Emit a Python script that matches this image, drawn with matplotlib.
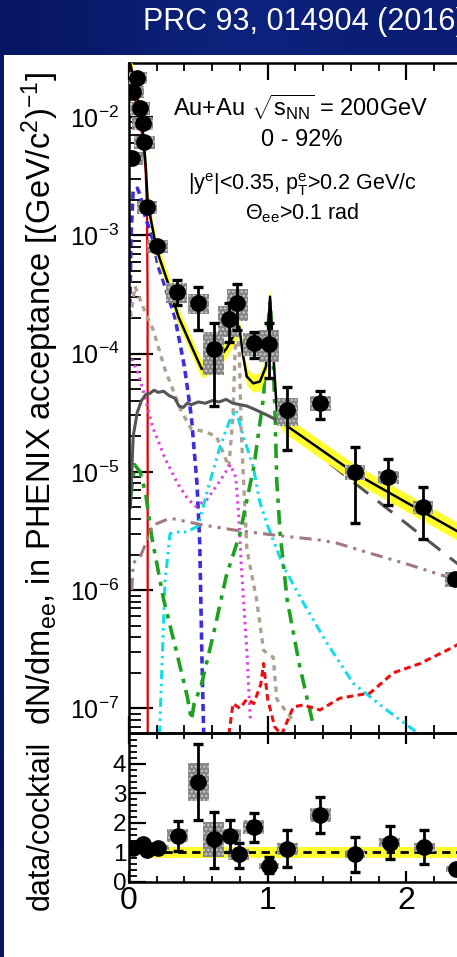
import numpy as np
import matplotlib
matplotlib.use("Agg")
import matplotlib.pyplot as plt
import matplotlib.patches as patches
from matplotlib.ticker import MultipleLocator, LogLocator, NullFormatter, FixedLocator

plt.rcParams['font.family'] = ['Liberation Sans', 'DejaVu Sans']
plt.rcParams['mathtext.fontset'] = 'custom'
plt.rcParams['mathtext.rm'] = 'Liberation Sans'
plt.rcParams['mathtext.it'] = 'Liberation Sans:italic'
plt.rcParams['mathtext.bf'] = 'Liberation Sans:bold'
plt.rcParams['mathtext.default'] = 'regular'

# ========================
# Data
# ========================
# measured dielectron yield
mass = [0.055, 0.03, 0.08, 0.10, 0.11, 0.025, 0.13, 0.205, 0.345, 0.50, 0.61,
        0.72, 0.78, 0.90, 1.01, 1.14, 1.38, 1.63, 1.87, 2.12, 2.35]
yld = [2.14e-2, 1.63e-2, 1.19e-2, 8.9e-3, 6.15e-3, 4.5e-3, 1.73e-3, 8.1e-4,
       3.32e-4, 2.68e-4, 1.09e-4, 1.96e-4, 2.68e-4, 1.23e-4, 1.21e-4, 3.33e-5,
       3.82e-5, 9.98e-6, 9.06e-6, 5.05e-6, 1.24e-6]
yld_hi = [2.14e-2, 1.63e-2, 1.19e-2, 8.9e-3, 6.15e-3, 4.5e-3, 1.73e-3, 8.1e-4,
          4.19e-4, 3.66e-4, 1.82e-4, 2.68e-4, 3.87e-4, 1.52e-4, 1.8e-4, 5.2e-5,
          4.83e-5, 1.62e-5, 1.29e-5, 7.45e-6, 1.24e-6]
yld_lo = [2.14e-2, 1.63e-2, 1.19e-2, 8.9e-3, 6.15e-3, 4.5e-3, 1.73e-3, 8.1e-4,
          2.58e-4, 1.58e-4, 3.6e-5, 1.26e-4, 1.58e-4, 9.2e-5, 6.2e-5, 1.53e-5,
          2.8e-5, 3.7e-6, 5.25e-6, 2.71e-6, 1.24e-6]
yld_sys = [0.12, 0.12, 0.12, 0.12, 0.12, 0.12, 0.12, 0.12, 0.2, 0.2, 0.4,
           0.3, 0.3, 0.22, 0.3, 0.27, 0.15, 0.15, 0.13, 0.13, 0.15]

# data / cocktail
r_mass = [0.03, 0.10, 0.13, 0.21, 0.35, 0.50, 0.61, 0.73, 0.79, 0.90, 1.01,
          1.14, 1.38, 1.63, 1.88, 2.13, 2.36]
ratio = [1.16, 1.29, 1.08, 1.16, 1.56, 3.38, 1.45, 1.56, 0.94, 1.85, 0.55,
         1.12, 2.27, 0.95, 1.33, 1.18, 0.43]
ratio_hi = [1.16, 1.29, 1.08, 1.16, 2.06, 4.68, 2.38, 2.10, 1.32, 2.34, 0.86,
            1.76, 2.89, 1.54, 1.90, 1.76, 0.43]
ratio_lo = [1.16, 1.29, 1.08, 1.16, 1.06, 2.10, 0.46, 1.03, 0.47, 1.37, 0.30,
            0.52, 1.65, 0.35, 0.77, 0.61, 0.43]
ratio_sys = [0.08, 0.08, 0.08, 0.08, 0.22, 0.65, 0.6, 0.22, 0.18, 0.24, 0.1,
             0.2, 0.25, 0.12, 0.15, 0.15, 0.1]

# cocktail sum
tot_m = [0.01, 0.03, 0.05, 0.08, 0.10, 0.12, 0.135, 0.163, 0.20, 0.283, 0.356,
         0.452, 0.524, 0.62, 0.704, 0.764, 0.795, 0.82, 0.849, 0.896, 0.944,
         0.988, 1.017, 1.04, 1.065, 1.112, 1.63, 2.35, 3.0]
tot_y = [0.028, 0.022, 0.016, 0.011, 0.0075, 0.004, 0.0019, 1.26e-3, 7.5e-4,
         3.9e-4, 2.05e-4, 1.14e-4, 7.4e-5, 8.3e-5, 1.11e-4, 1.49e-4, 1.69e-4,
         1.0e-4, 6.4e-5, 5.6e-5, 5.8e-5, 7.8e-5, 3.03e-4, 1.0e-4, 3.4e-5,
         2.57e-5, 9.7e-6, 3.23e-6, 1.2e-6]

pi0_m = [0.0, 0.02, 0.05, 0.08, 0.10, 0.12, 0.13, 0.134, 0.1345, 0.135]
pi0_y = [0.03, 0.019, 0.013, 0.009, 0.0065, 0.0035, 0.0015, 3e-4, 1e-5, 1e-8]

eta_m = [0.005, 0.015, 0.03, 0.06, 0.08, 0.12, 0.175, 0.21, 0.25, 0.33, 0.40,
         0.45, 0.49, 0.51, 0.525, 0.54]
eta_y = [2e-4, 1e-3, 2.4e-3, 2.5e-3, 2.2e-3, 1.4e-3, 9e-4, 5.5e-4, 4e-4,
         2.05e-4, 7.7e-5, 2.9e-5, 8e-6, 2.5e-6, 3e-7, 5e-8]

omg_m = [0.01, 0.043, 0.10, 0.175, 0.26, 0.38, 0.45, 0.54, 0.63, 0.68, 0.72,
         0.75, 0.765, 0.78, 0.795, 0.81, 0.85, 0.92, 0.97, 1.04, 1.065, 1.18]
omg_y = [2e-4, 3.7e-4, 2.5e-4, 1.58e-4, 7.3e-5, 3.2e-5, 2.3e-5, 2.2e-5, 2e-5,
         1.44e-5, 1.1e-5, 3e-5, 1.07e-4, 1.6e-4, 1.0e-4, 2.1e-5, 2.2e-6,
         8.3e-7, 3.1e-7, 2.7e-7, 1.2e-7, 8e-8]

etap_m = [0.02, 0.067, 0.11, 0.17, 0.26, 0.35, 0.42, 0.48, 0.56, 0.66, 0.73,
          0.77, 0.79, 0.81, 0.85, 0.875]
etap_y = [9e-5, 6.8e-5, 4.5e-5, 2.4e-5, 1.3e-5, 8e-6, 6e-6, 5.1e-6, 5.8e-6,
          8.5e-6, 1.15e-5, 9e-6, 4.5e-6, 1.6e-6, 3e-7, 8e-8]

rho_m = [0.22, 0.26, 0.296, 0.34, 0.416, 0.50, 0.56, 0.656, 0.728, 0.771,
         0.824, 0.896, 0.944, 1.0, 1.112, 1.257, 1.425, 1.617, 1.858, 2.05, 2.3]
rho_y = [6e-8, 1.2e-6, 3e-6, 3.1e-6, 3.1e-6, 3.5e-6, 6.6e-6, 1.63e-5, 2.75e-5,
         3.33e-5, 2e-5, 1.1e-5, 5.5e-6, 3.5e-6, 1.6e-6, 7.8e-7, 3.6e-7,
         1.63e-7, 9.7e-8, 6.6e-8, 4e-8]

phi_m = [0.01, 0.04, 0.08, 0.12, 0.16, 0.25, 0.34, 0.42, 0.45, 0.47, 0.52,
         0.61, 0.70, 0.80, 0.85, 0.90, 0.97, 1.00, 1.017, 1.036, 1.053, 1.065,
         1.09, 1.14, 1.23, 1.33]
phi_y = [6e-6, 1.15e-5, 1e-5, 6.6e-6, 3e-6, 8.3e-7, 3.1e-7, 1.26e-7, 8e-8,
         1.1e-7, 1.55e-7, 4.3e-7, 1.3e-6, 3e-6, 5.8e-6, 1.1e-5, 4.3e-5, 1.6e-4,
         2.7e-4, 1.15e-4, 3.1e-5, 8.5e-6, 3e-6, 8.3e-7, 2.3e-7, 7.1e-8]

cc_m = [0.01, 0.03, 0.06, 0.09, 0.12, 0.15, 0.18, 0.21, 0.25, 0.29, 0.33, 0.36,
        0.39, 0.42, 0.45, 0.5, 0.55, 0.6, 0.65, 0.7, 0.75, 0.8, 0.85, 0.9,
        0.95, 1.0, 1.05, 1.1]
cc_y = [5e-6, 2e-5, 3.2e-5, 4.0e-5, 4.5e-5, 4.6e-5, 4.9e-5, 4.7e-5, 4.8e-5,
        4.4e-5, 4.2e-5, 3.6e-5, 3.5e-5, 3.8e-5, 3.7e-5, 3.9e-5, 3.8e-5, 4.0e-5,
        3.9e-5, 4.1e-5, 3.8e-5, 3.7e-5, 3.6e-5, 3.4e-5, 3.2e-5, 3.0e-5,
        2.8e-5, 2.5e-5]
ccd_m = [1.1, 1.63, 2.35, 3.0]
ccd_y = [2.45e-5, 8.0e-6, 1.74e-6, 4.5e-7]

bb_m = [0.02, 0.031, 0.08, 0.175, 0.296, 0.536, 0.776, 1.017, 1.377, 1.497,
        1.738, 1.978, 2.29, 2.6]
bb_y = [1e-6, 1.7e-6, 1.9e-6, 3.55e-6, 4.06e-6, 3.55e-6, 3.2e-6, 2.95e-6,
        2.65e-6, 2.5e-6, 2.05e-6, 1.7e-6, 1.3e-6, 1.0e-6]

jp_m = [0.72, 0.75, 0.8, 0.85, 0.9, 0.95, 0.97, 1.0, 1.05, 1.1, 1.185, 1.257,
        1.377, 1.52, 1.738, 1.906, 2.1, 2.338, 2.6, 2.9, 3.05]
jp_y = [6e-8, 1.1e-7, 1.0e-7, 1.2e-7, 1.1e-7, 1.6e-7, 2.4e-7, 1.2e-7, 7e-8,
        6e-8, 1.03e-7, 1.07e-7, 9.7e-8, 1.22e-7, 1.35e-7, 2e-7, 2.4e-7,
        3.3e-7, 5e-7, 1e-6, 3e-6]

W, H = 457, 957
fig = plt.figure(figsize=(W / 100, H / 100), dpi=100)

# ========================
# Slide background
# ========================
bg = fig.add_axes([0, 0, 1, 1], zorder=-5)
bg.imshow([[[0.03, 0.09, 0.39], [0.05, 0.15, 0.52], [0.04, 0.11, 0.45]],
           [[0.03, 0.08, 0.36], [0.04, 0.10, 0.42], [0.04, 0.10, 0.42]]],
          extent=[0, 1, 0, 1], aspect='auto', interpolation='bicubic')
bg.add_patch(patches.Rectangle((3.5 / W, 0), 1, 1 - 55 / H,
                               transform=bg.transAxes,
                               facecolor='white', edgecolor='none'))
bg.set_xlim(0, 1)
bg.set_ylim(0, 1)
bg.axis('off')
fig.text(143 / W, 1 - 30 / H, "PRC 93, 014904 (2016)", color='white',
         fontsize=22, va='baseline', ha='left')

# ========================
# Axes
# ========================
px_per_unit = 138.7
x_max = 4.5
left = 129 / W
width = x_max * px_per_unit / W
ax = fig.add_axes([left, 1 - 733 / H, width, (733 - 63) / H])
axr = fig.add_axes([left, 1 - 882 / H, width, (882 - 733) / H], sharex=ax)
ax.patch.set_alpha(0)
axr.patch.set_alpha(0)

ax.set_yscale('log')
ax.set_xlim(0, x_max)
ax.set_ylim(6.2e-8, 0.0286)

# cocktail components
ax.plot(pi0_m, pi0_y, color='#e00000', lw=1.6, zorder=2)
ax.plot(eta_m, eta_y, color='#3a2ee0', lw=2.6, ls=(0, (2.0, 1.3)), zorder=2)
ax.plot(omg_m, omg_y, color='#b0a090', lw=2.4, ls=(0, (1.6, 1.6)), zorder=2)
ax.plot(etap_m, etap_y, color='#e040e0', lw=2.2, ls=(0, (0.8, 1.4)), zorder=2)
ax.plot(rho_m, rho_y, color='#10dde8', lw=2.2,
        ls=(0, (3, 1.5, 0.8, 1.5, 0.8, 1.5)), zorder=2)
ax.plot(phi_m, phi_y, color='#20a020', lw=2.6, ls=(0, (4, 2, 1.2, 2)), zorder=2)
ax.plot(bb_m, bb_y, color='#a07a80', lw=2.2, ls=(0, (4, 2, 1, 2, 1, 2)), zorder=2)
ax.plot(jp_m, jp_y, color='#e81010', lw=2.2, ls=(0, (2.2, 1.4)), zorder=2)
ax.plot(cc_m, cc_y, color='#555555', lw=2.2, zorder=2)
ax.plot(ccd_m, ccd_y, color='#555555', lw=2.2, ls=(0, (6, 4)), zorder=2)

# cocktail sum with its uncertainty band
tot_y_arr = np.array(tot_y)
ax.fill_between(tot_m, tot_y_arr * 0.84, tot_y_arr * 1.19, color='#ffff30',
                lw=0, zorder=3)
ax.plot(tot_m, tot_y, color='black', lw=1.8, zorder=3.5)

# systematic boxes + data
box_hw = 0.075
for x, y, f in zip(mass, yld, yld_sys):
    ax.add_patch(patches.Rectangle((x - box_hw, y * (1 - f)), 2 * box_hw,
                                   2 * f * y, facecolor='#858585',
                                   edgecolor='#cfcfcf', hatch='....', lw=0,
                                   zorder=4))
yld_arr = np.array(yld)
ax.errorbar(mass, yld, yerr=[yld_arr - np.array(yld_lo), np.array(yld_hi) - yld_arr],
            fmt='o', color='black', ms=11, elinewidth=2, capsize=3.4,
            capthick=2.4, zorder=6)

ax.xaxis.set_major_locator(MultipleLocator(1))
ax.xaxis.set_minor_locator(MultipleLocator(0.2))
ax.yaxis.set_major_locator(LogLocator(base=10, numticks=20))
ax.yaxis.set_minor_locator(LogLocator(base=10, subs=np.arange(2, 10), numticks=20))
ax.yaxis.set_minor_formatter(NullFormatter())
ax.tick_params(which='both', direction='in', top=True, right=True)
ax.tick_params(axis='y', which='major', length=17, width=1.6, labelsize=18, pad=7)
ax.tick_params(axis='y', which='minor', length=8.5, width=1.3)
ax.tick_params(axis='x', which='major', length=12, width=1.6, labelbottom=False)
ax.tick_params(axis='x', which='minor', length=6, width=1.3)
for s in ax.spines.values():
    s.set_linewidth(1.8)

# ratio panel
axr.set_ylim(0, 5.05)
axr.fill_between([0.15, x_max], [0.82, 0.82], [1.18, 1.18], color='#ffff30',
                 lw=0, zorder=1)
axr.plot([0.15, x_max], [1, 1], color='black', lw=2, ls=(0, (3, 2)), zorder=2)
for x, y, s in zip(r_mass, ratio, ratio_sys):
    axr.add_patch(patches.Rectangle((x - box_hw, y - s), 2 * box_hw, 2 * s,
                                    facecolor='#858585', edgecolor='#cfcfcf',
                                    hatch='....', lw=0, zorder=4))
ratio_arr = np.array(ratio)
axr.errorbar(r_mass, ratio,
             yerr=[ratio_arr - np.array(ratio_lo), np.array(ratio_hi) - ratio_arr],
             fmt='o', color='black', ms=11, elinewidth=2, capsize=3.4,
             capthick=2.4, zorder=6)
axr.yaxis.set_major_locator(FixedLocator([0, 1, 2, 3, 4]))
axr.yaxis.set_minor_locator(MultipleLocator(0.2))
axr.tick_params(which='both', direction='in', top=True, right=True)
axr.tick_params(axis='y', which='major', length=12, width=1.6, labelsize=17.5, pad=2)
axr.tick_params(axis='y', which='minor', length=6, width=1.3)
axr.tick_params(axis='x', which='major', length=8, width=1.6, labelsize=23, pad=3)
axr.tick_params(axis='x', which='minor', length=4, width=1.3)
for s in axr.spines.values():
    s.set_linewidth(1.8)

# labels
fig.text(40 / W, 1 - 398 / H,
         r"dN/dm$_{ee}$, in PHENIX acceptance [(GeV/c$^{2}$)$^{-1}$]",
         rotation=90, ha='center', va='center', fontsize=23.5)
fig.text(41 / W, 1 - 825 / H, "data/cocktail", rotation=90, ha='center',
         va='center', fontsize=22)

fig.text(301 / W, 1 - 107 / H, r"Au+Au $\sqrt{s_{NN}}$ = 200GeV", ha='center',
         va='center', fontsize=17)
fig.text(302 / W, 1 - 140 / H, "0 - 92%", ha='center', va='center', fontsize=17)
fig.text(302 / W, 1 - 185 / H, r"$|y^{e}|$<0.35, $p^{e}_{T}$>0.2 GeV/c",
         ha='center', va='center', fontsize=15.5)
fig.text(302 / W, 1 - 213 / H, r"$\Theta_{ee}$>0.1 rad", ha='center',
         va='center', fontsize=15.5)

fig.savefig("out.png", dpi=100)
